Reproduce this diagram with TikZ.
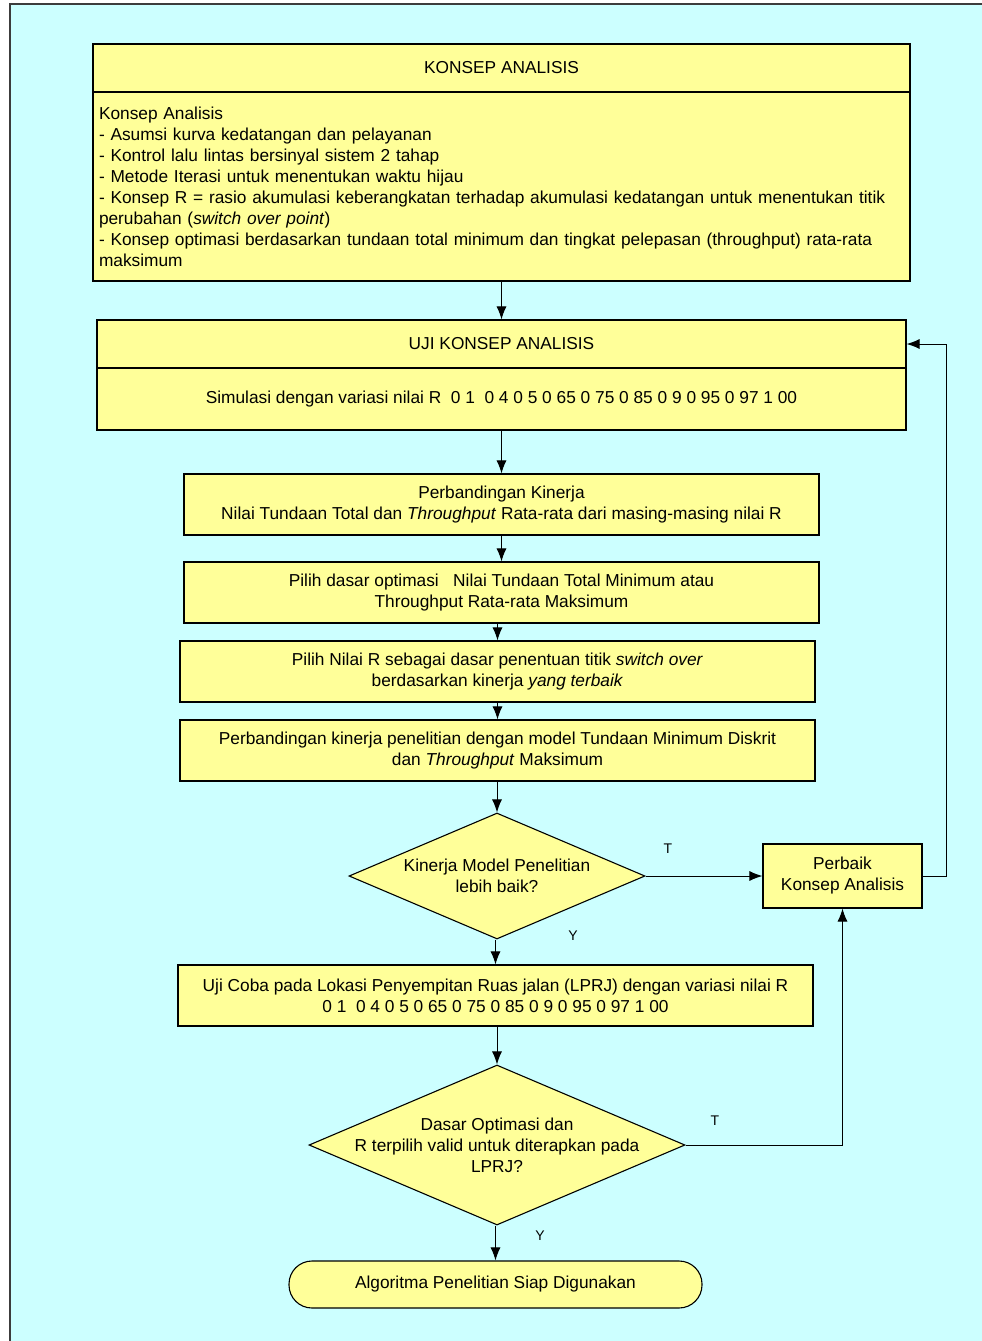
\documentclass[tikz,border=0pt]{standalone}
\usepackage{fontspec}
\setmainfont{Liberation Sans}
\usetikzlibrary{shapes,arrows.meta,calc}
\definecolor{bgcyan}{RGB}{204,255,255}
\definecolor{boxyellow}{RGB}{255,255,153}
\definecolor{framegray}{RGB}{60,60,60}
\tikzstyle{box}=[rectangle,draw=black,fill=boxyellow,line width=1.1pt,inner sep=0pt,align=center,font=\fontsize{17.3}{21}\selectfont]
\tikzstyle{widebox}=[box,minimum width=817pt,minimum height=48pt]
\tikzstyle{stepbox}=[box,minimum width=635pt,minimum height=61pt]
\tikzstyle{decision}=[diamond,draw=black,fill=boxyellow,line width=1.1pt,inner sep=0pt]
\tikzstyle{txt}=[inner sep=0pt,align=center,font=\fontsize{17.3}{21}\selectfont]
\tikzstyle{edge} = [draw,line width=1pt,-{Latex[length=13pt,width=10pt]}]
\tikzstyle{weight} = [font=\fontsize{14}{16}\selectfont]

\begin{document}
\begin{tikzpicture}[x=1pt,y=-1pt]
\useasboundingbox (0,0) rectangle (982,1341);

% background sheet
\fill[bgcyan] (10,4) rectangle (982,1341);
\draw[framegray,line width=1.6pt] (982,4) -- (10,4) -- (10,1341);

% konsep analisis
\node[widebox] (konsephead) at (501.5,68) {KONSEP ANALISIS};
\node[widebox,minimum height=189pt,text width=805pt,align=left] (konsepbody) at (501.5,186.5)
  {Konsep Analisis\\
  - Asumsi kurva kedatangan dan pelayanan\\
  - Kontrol lalu lintas bersinyal sistem 2 tahap\\
  - Metode Iterasi untuk menentukan waktu hijau\\
  - Konsep R = rasio akumulasi keberangkatan terhadap akumulasi kedatangan untuk menentukan titik\\
  perubahan (\textit{switch over point})\\
  - Konsep optimasi berdasarkan tundaan total minimum dan tingkat pelepasan (throughput) rata-rata\\
  maksimum};

% uji konsep
\node[widebox,minimum width=809pt] (ujihead) at (501.5,344) {UJI KONSEP ANALISIS};
\node[widebox,minimum width=809pt,minimum height=62pt] (ujibody) at (501.5,399)
  {Simulasi dengan variasi nilai R\ \ 0 1\ \ 0 4 0 5 0 65 0 75 0 85 0 9 0 95 0 97 1 00};

% langkah-langkah
\foreach \pos/\name/\label in {
  {(501.5,504.5)/banding/{Perbandingan Kinerja\\Nilai Tundaan Total dan \textit{Throughput} Rata-rata dari masing-masing nilai R}},
  {(501.5,592.5)/pilihdasar/{Pilih dasar optimasi\ \ \ Nilai Tundaan Total Minimum atau\\Throughput Rata-rata Maksimum}},
  {(497.5,671.5)/pilihR/{Pilih Nilai R sebagai dasar penentuan titik \textit{switch over}\\berdasarkan kinerja \textit{yang terbaik}}},
  {(497.5,750.5)/bandingmodel/{Perbandingan kinerja penelitian dengan model Tundaan Minimum Diskrit\\dan \textit{Throughput} Maksimum}},
  {(495.5,995.5)/ujicoba/{Uji Coba pada Lokasi Penyempitan Ruas jalan (LPRJ) dengan variasi nilai R\\0 1\ \ 0 4 0 5 0 65 0 75 0 85 0 9 0 95 0 97 1 00}}}
    \node[stepbox] (\name) at \pos {\label};

\node[box,minimum width=159pt,minimum height=64pt] (perbaik) at (842.5,876) {Perbaik\\Konsep Analisis};

% keputusan
\node[decision,minimum width=296pt,minimum height=126pt] (cek1) at (497,876) {};
\node[txt] (cek1txt) at (cek1) {Kinerja Model Penelitian\\lebih baik?};
\node[decision,minimum width=376pt,minimum height=160pt] (cek2) at (497,1145) {};
\node[txt] (cek2txt) at (cek2) {Dasar Optimasi dan\\R terpilih valid untuk diterapkan pada\\LPRJ?};

\node[box,rounded corners=23pt,minimum width=413pt,minimum height=47pt] (selesai) at (495.5,1284.5) {Algoritma Penelitian Siap Digunakan};

% Connect boxes
\foreach \source/ \dest in {konsepbody/ujihead, ujibody/banding, banding/pilihdasar, pilihdasar/pilihR, pilihR/bandingmodel, bandingmodel/cek1, cek1/ujicoba, ujicoba/cek2, cek2/selesai}
    \path[edge] (\dest.north |- \source.south) -- (\dest.north);

\path[edge] (cek1.east) -- (perbaik.west);
\path[edge] (perbaik.east) -- ++(24,0) |- (ujihead.east);
\path[edge] (cek2.east) -| (perbaik.south);

% Y / T labels
\node[weight] (t1) at (668,849) {T};
\node[weight] (y1) at (573,936) {Y};
\node[weight] (t2) at (715,1121) {T};
\node[weight] (y2) at (540,1236) {Y};

\end{tikzpicture}
\end{document}
